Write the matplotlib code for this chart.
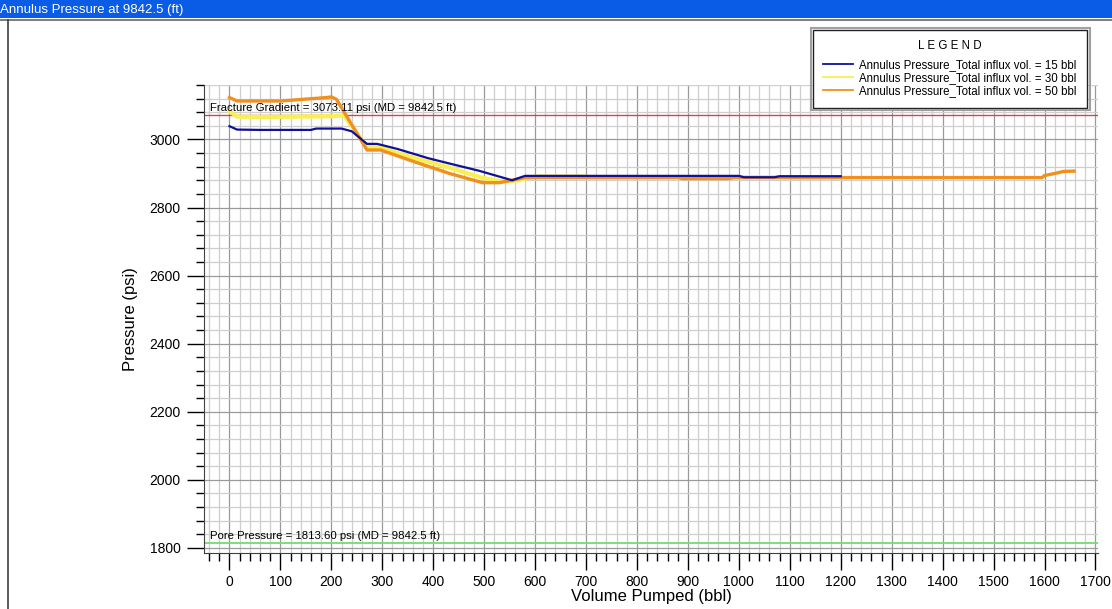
import matplotlib
matplotlib.use("Agg")
import matplotlib.pyplot as plt
from matplotlib.patches import Rectangle
from matplotlib.lines import Line2D
from matplotlib.ticker import MultipleLocator

plt.rcParams['font.family'] = ['Liberation Sans', 'DejaVu Sans']

window_title = "Annulus Pressure at 9842.5 (ft)"

# annulus pressure vs. volume pumped, one run per influx volume
vol_15 = [0, 15, 60, 160, 170, 220, 240, 270, 290, 330, 390, 430, 490, 555, 580, 1000, 1010, 1070, 1080, 1200]
p_15 = [3039, 3029, 3028, 3028, 3032, 3032, 3024, 2987, 2987, 2972, 2945, 2930, 2908, 2880, 2893, 2893, 2889, 2889, 2892, 2892]

vol_30 = [0, 15, 60, 200, 215, 225, 270, 295, 340, 432, 497, 530, 560, 600, 700, 710, 1200]
p_30 = [3083, 3067, 3066, 3068, 3070, 3070, 2977, 2977, 2955, 2917, 2887, 2878, 2878, 2891, 2891, 2889, 2889]

vol_50 = [0, 15, 100, 190, 200, 210, 270, 297, 360, 432, 497, 530, 580, 880, 890, 980, 990, 1595, 1600, 1620, 1637, 1658]
p_50 = [3123, 3113, 3113, 3123, 3125, 3118, 2969, 2969, 2936, 2900, 2873, 2873, 2888, 2888, 2885, 2885, 2888, 2888, 2894, 2900, 2906, 2907]

series_labels = ["Annulus Pressure_Total influx vol. = 15 bbl",
                 "Annulus Pressure_Total influx vol. = 30 bbl",
                 "Annulus Pressure_Total influx vol. = 50 bbl"]

fracture_gradient = 3073.11
pore_pressure = 1813.60
md = 9842.5

fig = plt.figure(figsize=(11.12, 6.09), dpi=100)

# window chrome: blue title bar and panel border
fig.patches.append(Rectangle((0, 1 - 18 / 609), 1, 18 / 609, transform=fig.transFigure,
                             facecolor='#0a5ce6', edgecolor='none', zorder=0))
fig.add_artist(Line2D([0, 1], [1 - 20 / 609] * 2, transform=fig.transFigure, color='#808080', lw=1.5))
fig.add_artist(Line2D([8 / 1112] * 2, [0, 1 - 20 / 609], transform=fig.transFigure, color='#404040', lw=1.2))
fig.text(0.0, 1 - 9.5 / 609, window_title, color='white', fontsize=9.5, va='center', ha='left')

ax = fig.add_axes([204 / 1112, 1 - 553 / 609, 894 / 1112, 468 / 609])

ax.plot(vol_15, p_15, color='#10109a', lw=1.6, label=series_labels[0], zorder=5)
ax.plot(vol_30, p_30, color='#f8f050', lw=3.0, label=series_labels[1], zorder=3)
ax.plot(vol_50, p_50, color='#f0901e', lw=2.4, label=series_labels[2], zorder=4)

ax.axhline(fracture_gradient, color='#d04848', lw=1.0, zorder=2)
ax.axhline(pore_pressure, color='#70dd70', lw=1.3, zorder=2)
ax.text(-38, fracture_gradient + 6, f"Fracture Gradient = {fracture_gradient:.2f} psi (MD = {md} ft)",
        fontsize=8.2, va='bottom', ha='left', zorder=6)
ax.text(-38, pore_pressure + 6, f"Pore Pressure = {pore_pressure:.2f} psi (MD = {md} ft)",
        fontsize=8.2, va='bottom', ha='left', zorder=6)

ax.set_xlim(-50, 1705)
ax.set_ylim(1785, 3160)
ax.xaxis.set_major_locator(MultipleLocator(100))
ax.xaxis.set_minor_locator(MultipleLocator(20))
ax.yaxis.set_major_locator(MultipleLocator(200))
ax.yaxis.set_minor_locator(MultipleLocator(40))

ax.grid(which='minor', color='#cfcfcf', lw=0.9, zorder=0)
ax.grid(which='major', color='#9a9a9a', lw=0.9, zorder=1)
ax.set_axisbelow(True)

ax.tick_params(which='major', direction='out', length=12, width=1.0, labelsize=10, pad=5)
ax.tick_params(axis='x', which='major', pad=3.5)
ax.tick_params(which='minor', direction='out', length=6, width=1.0)
for side in ['top', 'right']:
    ax.spines[side].set_visible(False)
for side in ['left', 'bottom']:
    ax.spines[side].set_color('#404040')

ax.set_xlabel("Volume Pumped (bbl)", fontsize=12, labelpad=0.5)
ax.set_ylabel("Pressure (psi)", fontsize=12, labelpad=8)

leg = fig.legend(loc='upper right', bbox_to_anchor=(1087 / 1112, 1 - 30 / 609),
                 title="L E G E N D", fontsize=8.3, title_fontsize=8.3,
                 frameon=True, fancybox=False, edgecolor='#202020',
                 handlelength=2.6, handletextpad=0.5, labelspacing=0.08,
                 borderpad=0.9, borderaxespad=0, framealpha=1)
leg.get_frame().set_linewidth(1.0)
leg._legend_box.sep = 5
for h in leg.legend_handles:
    h.set_linewidth(1.3)

# grey outer border of the legend panel
fig.canvas.draw()
bb = leg.get_window_extent().transformed(fig.transFigure.inverted())
pad_x, pad_y = 2.5 / 1112, 2.5 / 609
fig.patches.append(Rectangle((bb.x0 - pad_x, bb.y0 - pad_y), bb.width + 2 * pad_x, bb.height + 2 * pad_y,
                             transform=fig.transFigure, facecolor='none', edgecolor='#a0a0a0',
                             lw=1.5, zorder=10))

fig.savefig("out.png", dpi=100)
